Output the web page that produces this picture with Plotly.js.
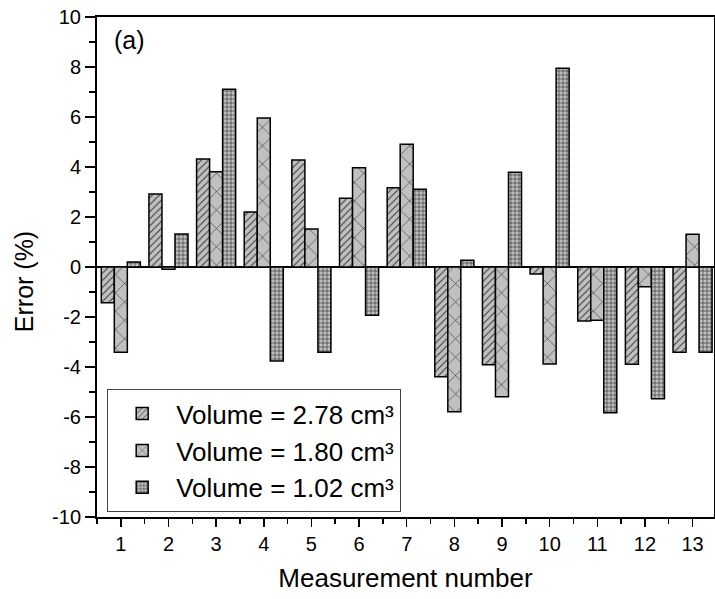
<!DOCTYPE html>
<html>
<head>
<meta charset="utf-8">
<script src="https://cdn.plot.ly/plotly-3.0.1.min.js"></script>
<style>
  html, body { margin: 0; padding: 0; background: #fff; overflow: hidden; }
  #chart { width: 715px; height: 599px; }
</style>
</head>
<body>
<div id="chart"></div>
<script>
// ---- data ----
const measurements = [1, 2, 3, 4, 5, 6, 7, 8, 9, 10, 11, 12, 13];
const seriesNames = ["Volume = 2.78 cm³", "Volume = 1.80 cm³", "Volume = 1.02 cm³"];
const errV278 = [-1.43, 2.92, 4.32, 2.20, 4.28, 2.75, 3.17, -4.39, -3.91, -0.28, -2.16, -3.89, -3.41];
const errV180 = [-3.41, -0.09, 3.81, 5.96, 1.52, 3.97, 4.91, -5.79, -5.19, -3.88, -2.13, -0.79, 1.31];
const errV102 = [0.20, 1.32, 7.11, -3.76, -3.41, -1.93, 3.11, 0.27, 3.79, 7.95, -5.83, -5.27, -3.41];
const yTickVals = [-10, -8, -6, -4, -2, 0, 2, 4, 6, 8, 10];
const yTickText = ["-10", "-8", "-6", "-4", "-2", "0", "2", "4", "6", "8", "10"];
const xTitle = "Measurement number";
const yTitle = "Error (%)";
const panelLabel = "(a)";

const FONT = "Liberation Sans, Arial, Helvetica, sans-serif";
const seriesValues = [errV278, errV180, errV102];
const patterns = [
  { shape: "/", size: 5, solidity: 0.2, fgcolor: "#333333", bgcolor: "#c0c0c0", fillmode: "replace" },
  { shape: "x", size: 13, solidity: 0.08, fgcolor: "#222222", bgcolor: "#c0c0c0", fillmode: "replace" },
  { shape: "+", size: 4, solidity: 0.3, fgcolor: "#333333", bgcolor: "#c0c0c0", fillmode: "replace" }
];

const traces = seriesValues.map((vals, i) => ({
  type: "bar",
  x: measurements,
  y: vals,
  name: seriesNames[i],
  legendgroup: "g" + i,
  marker: {
    color: "#c0c0c0",
    line: { color: "#000000", width: 1.5 },
    pattern: patterns[i]
  },
  hoverinfo: "x+y"
}));

const layout = {
  width: 715,
  height: 599,
  margin: { l: 97, r: 1, t: 17, b: 82 },
  paper_bgcolor: "#ffffff",
  plot_bgcolor: "#ffffff",
  font: { family: FONT, color: "#000000", size: 20 },
  barmode: "group",
  bargap: 0.18,
  bargroupgap: 0,
  showlegend: true,
  legend: {
    x: 0.0162, y: 0.01, xanchor: "left", yanchor: "bottom",
    bgcolor: "#ffffff",
    bordercolor: "#444444",
    borderwidth: 1.2,
    font: { family: FONT, size: 26, color: "#000000" },
    tracegroupgap: 0,
    itemwidth: 58,
    traceorder: "normal"
  },
  xaxis: {
    range: [0.5, 13.45],
    tickvals: measurements,
    ticks: "outside",
    ticklen: 8,
    tickwidth: 1.5,
    tickcolor: "#000000",
    tickfont: { family: FONT, size: 20, color: "#000000" },
    minor: { tick0: 0.5, dtick: 0.5, ticks: "outside", ticklen: 5, tickwidth: 1.5, tickcolor: "#000000", showgrid: false },
    showline: true,
    linecolor: "#000000",
    linewidth: 2,
    mirror: true,
    showgrid: false,
    zeroline: false,
    title: { text: xTitle, font: { family: FONT, size: 26, color: "#000000" }, standoff: 15 },
    fixedrange: true
  },
  yaxis: {
    range: [-10, 10],
    tickvals: yTickVals,
    ticktext: yTickText,
    ticks: "outside",
    ticklen: 10,
    tickwidth: 1.5,
    tickcolor: "#000000",
    tickfont: { family: FONT, size: 20, color: "#000000" },
    minor: { dtick: 1, ticks: "outside", ticklen: 6, tickwidth: 1.5, tickcolor: "#000000", showgrid: false },
    showline: true,
    linecolor: "#000000",
    linewidth: 2,
    mirror: true,
    showgrid: false,
    zeroline: true,
    zerolinecolor: "#000000",
    zerolinewidth: 1.5,
    fixedrange: true
  },
  annotations: [
    {
      text: panelLabel,
      xref: "paper", yref: "paper",
      x: 0.025, y: 0.955, xanchor: "left", yanchor: "middle",
      showarrow: false,
      font: { family: FONT, size: 25, color: "#000000" }
    },
    {
      text: yTitle,
      xref: "paper", yref: "paper",
      x: -0.118, y: 0.47, xanchor: "center", yanchor: "middle",
      textangle: -90,
      showarrow: false,
      font: { family: FONT, size: 25, color: "#000000" }
    }
  ]
};

Plotly.newPlot("chart", traces, layout, { displayModeBar: false, staticPlot: true });
</script>
</body>
</html>
